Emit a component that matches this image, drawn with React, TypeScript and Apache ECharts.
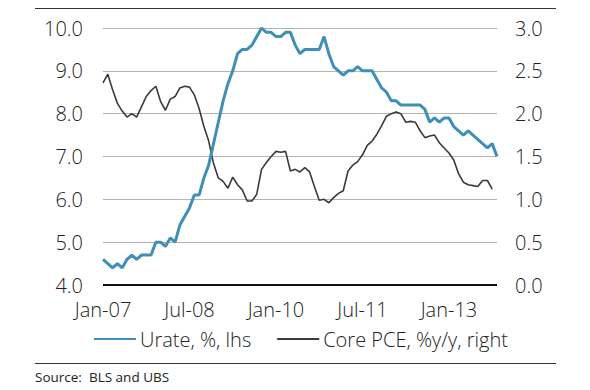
import React, { useEffect, useRef } from "react";
import * as echarts from "echarts";

const months = ["Jan", "Feb", "Mar", "Apr", "May", "Jun", "Jul", "Aug", "Sep", "Oct", "Nov", "Dec"];
const years = ["07", "08", "09", "10", "11", "12", "13"];
const categories: string[] = [];
years.forEach((y) => months.forEach((m) => categories.push(`${m}-${y}`)));
categories.splice(83); // Jan-07 .. Nov-13

const urate = [
  4.6, 4.5, 4.4, 4.5, 4.4, 4.6, 4.7, 4.6, 4.7, 4.7, 4.7, 5.0,
  5.0, 4.9, 5.1, 5.0, 5.4, 5.6, 5.8, 6.1, 6.1, 6.5, 6.8, 7.3,
  7.8, 8.3, 8.7, 9.0, 9.4, 9.5, 9.5, 9.6, 9.8, 10.0, 9.9, 9.9,
  9.8, 9.8, 9.9, 9.9, 9.6, 9.4, 9.5, 9.5, 9.5, 9.5, 9.8, 9.4,
  9.1, 9.0, 8.9, 9.0, 9.0, 9.1, 9.0, 9.0, 9.0, 8.8, 8.6, 8.5,
  8.3, 8.3, 8.2, 8.2, 8.2, 8.2, 8.2, 8.1, 7.8, 7.9, 7.8, 7.9,
  7.9, 7.7, 7.6, 7.5, 7.6, 7.5, 7.4, 7.3, 7.2, 7.3, 7.0,
];

const corePce = [
  2.36, 2.46, 2.28, 2.12, 2.03, 1.96, 2.0, 1.96, 2.08, 2.2, 2.27, 2.32,
  2.14, 2.04, 2.17, 2.2, 2.3, 2.32, 2.31, 2.22, 2.06, 1.85, 1.68, 1.42,
  1.25, 1.21, 1.13, 1.26, 1.17, 1.11, 0.98, 0.98, 1.06, 1.35, 1.43, 1.5,
  1.56, 1.55, 1.56, 1.33, 1.35, 1.32, 1.37, 1.32, 1.15, 0.99, 1.0, 0.96,
  1.02, 1.07, 1.1, 1.33, 1.4, 1.44, 1.52, 1.63, 1.68, 1.76, 1.86, 1.97,
  2.0, 2.02, 2.0, 1.9, 1.91, 1.9, 1.8, 1.72, 1.74, 1.75, 1.66, 1.6,
  1.54, 1.46, 1.3, 1.2, 1.17, 1.16, 1.15, 1.22, 1.22, 1.12,
];

const leftTicks = { min: 4, max: 10, interval: 1 };
const rightTicks = { min: 0, max: 3, interval: 0.5 };
const seriesNames = ["Urate, %, lhs", "Core PCE, %y/y, right"];
const sourceText = "Source:  BLS and UBS";

const FONT = "'Open Sans', 'Noto Sans', sans-serif";
const TEXT = "#222222";
const BLUE = "#3f8fb6";
const DARK = "#3a3a36";
const FS = 20;

export default function App() {
  const ref = useRef<HTMLDivElement>(null);
  useEffect(() => {
    if (!ref.current) return;
    const chart = echarts.init(ref.current, null, { renderer: "svg" });
    chart.setOption({
      animation: false,
      backgroundColor: "#ffffff",
      textStyle: { fontFamily: FONT },
      grid: { left: 103, right: 93, top: 28, bottom: 105, containLabel: false },
      xAxis: {
        type: "category",
        data: categories,
        boundaryGap: false,
        axisLine: { show: false },
        axisTick: { show: false },
        axisLabel: {
          interval: 17,
          color: TEXT,
          fontSize: FS,
          fontWeight: 300,
          fontFamily: FONT,
          margin: 14,
        },
        splitLine: { show: false },
      },
      yAxis: [
        {
          type: "value",
          ...leftTicks,
          position: "left",
          axisLine: { show: false },
          axisTick: { show: false },
          axisLabel: {
            color: TEXT,
            fontSize: FS,
            fontWeight: 300,
            fontFamily: FONT,
            margin: 20,
            formatter: (v: number) => v.toFixed(1),
          },
          splitLine: { show: true, lineStyle: { color: "#b4b4b4", width: 1 } },
        },
        {
          type: "value",
          ...rightTicks,
          position: "right",
          axisLine: { show: false },
          axisTick: { show: false },
          axisLabel: {
            color: TEXT,
            fontSize: FS,
            fontWeight: 300,
            fontFamily: FONT,
            margin: 18,
            formatter: (v: number) => v.toFixed(1),
          },
          splitLine: { show: false },
        },
      ],
      legend: {
        left: 93,
        top: 329,
        padding: 0,
        itemWidth: 42,
        itemHeight: 18,
        itemGap: 25,
        data: seriesNames,
        textStyle: { color: TEXT, fontSize: FS, fontWeight: 300, fontFamily: FONT, padding: [0, 0, 0, -1] },
        itemStyle: { opacity: 0 },
        selectedMode: false,
      },
      graphic: [
        { type: "line", shape: { x1: 35, y1: 8.5, x2: 556, y2: 8.5 }, style: { stroke: "#333", lineWidth: 1 } },
        { type: "line", shape: { x1: 35, y1: 363.5, x2: 556, y2: 363.5 }, style: { stroke: "#333", lineWidth: 1 } },
        { type: "line", shape: { x1: 103, y1: 285, x2: 497, y2: 285 }, style: { stroke: "#111", lineWidth: 2 }, z: 1 },
        {
          type: "text",
          left: 35,
          top: 370,
          style: { text: sourceText, fontSize: 13.5, fontFamily: FONT, fill: TEXT },
        },
      ],
      series: [
        {
          name: seriesNames[0],
          type: "line",
          data: urate,
          yAxisIndex: 0,
          showSymbol: false,
          symbol: "none",
          lineStyle: { color: BLUE, width: 3 },
          itemStyle: { color: BLUE },
          z: 3,
        },
        {
          name: seriesNames[1],
          type: "line",
          data: corePce,
          yAxisIndex: 1,
          showSymbol: false,
          symbol: "none",
          lineStyle: { color: DARK, width: 1.6 },
          itemStyle: { color: DARK },
          z: 2,
        },
      ],
    });
    return () => chart.dispose();
  }, []);
  return <div ref={ref} style={{ width: 590, height: 390, position: "absolute", left: 0, top: 0 }} />;
}
